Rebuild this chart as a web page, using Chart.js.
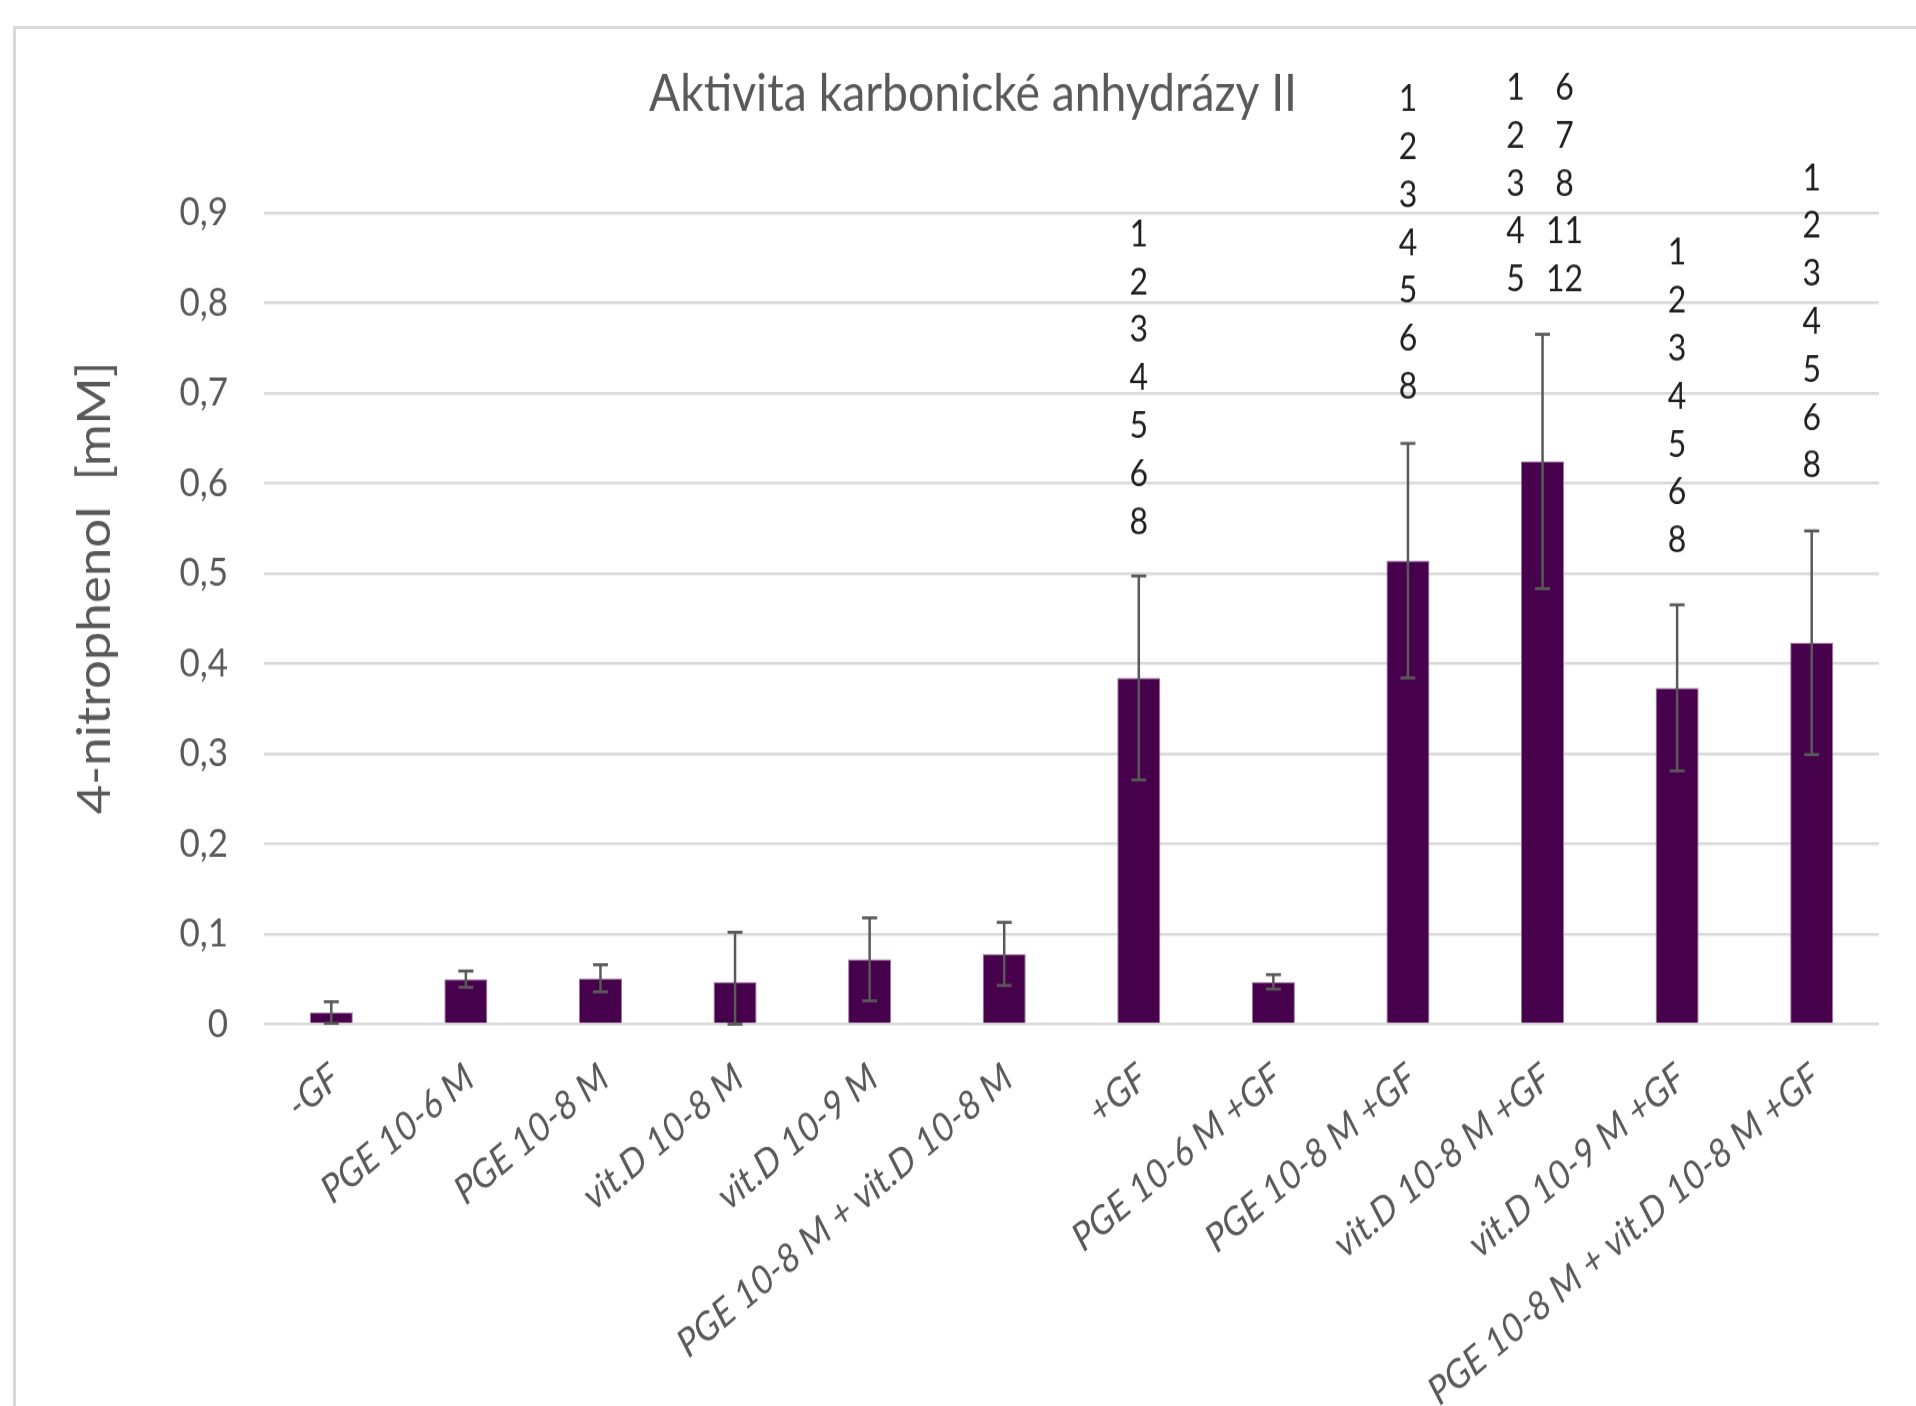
<!DOCTYPE html>
<html>
<head>
<meta charset="utf-8">
<title>Aktivita karbonické anhydrázy II</title>
<script src="https://cdn.jsdelivr.net/npm/chart.js@4.4.1/dist/chart.umd.min.js"></script>
<style>
  html, body { margin: 0; padding: 0; background: #ffffff; width: 1916px; height: 1406px; overflow: hidden; }
  #frame { position: absolute; left: 13px; top: 26px; width: 2000px; height: 2000px; border: 3px solid #d9d9d9; box-sizing: border-box; }
  /* the chart is drawn slightly condensed and stretched vertically */
  #chart { position: absolute; left: 0; top: 0; transform: scaleY(1.12); transform-origin: 0 0; }
</style>
</head>
<body>
<div id="frame"></div>
<canvas id="chart" width="1916" height="1256"></canvas>
<script>
// Treatment groups (x axis)
const categories = [
  '-GF',
  'PGE 10-6 M',
  'PGE 10-8 M',
  'vit.D 10-8 M',
  'vit.D 10-9 M',
  'PGE 10-8 M + vit.D 10-8 M',
  '+GF',
  'PGE 10-6 M +GF',
  'PGE 10-8 M +GF',
  'vit.D 10-8 M +GF',
  'vit.D 10-9 M +GF',
  'PGE 10-8 M + vit.D 10-8 M +GF'
];

// Mean 4-nitrophenol concentration [mM]
const means = [0.013, 0.050, 0.051, 0.047, 0.072, 0.078, 0.384, 0.047, 0.514, 0.624, 0.373, 0.423];

// Standard deviation of each group [mM]
const errors = [0.012, 0.009, 0.015, 0.055, 0.046, 0.035, 0.113, 0.008, 0.130, 0.141, 0.092, 0.124];

// Y axis tick labels (decimal comma)
const yTickLabels = ['0', '0,1', '0,2', '0,3', '0,4', '0,5', '0,6', '0,7', '0,8', '0,9'];

// Groups from which each bar differs significantly (one or two columns per bar)
const significance = [
  null, null, null, null, null, null,
  [['1', '2', '3', '4', '5', '6', '8']],
  null,
  [['1', '2', '3', '4', '5', '6', '8']],
  [['1', '2', '3', '4', '5'], ['6', '7', '8', '11', '12']],
  [['1', '2', '3', '4', '5', '6', '8']],
  [['1', '2', '3', '4', '5', '6', '8']]
];

const chartTitle = 'Aktivita karbonické anhydrázy II';
const yAxisTitle = '4-nitrophenol  [mM]';

const FONT = 'Lato';
const GREY = '#595959';

// Error bars: mean ± SD, clipped at zero
const errorBarPlugin = {
  id: 'errorBars',
  afterDatasetsDraw(chart, args, opts) {
    const { ctx, scales: { y } } = chart;
    const meta = chart.getDatasetMeta(0);
    ctx.save();
    ctx.strokeStyle = opts.color;
    ctx.lineCap = 'butt';
    means.forEach((m, i) => {
      const cx = meta.data[i].x;
      const hi = y.getPixelForValue(m + errors[i]);
      const lo = y.getPixelForValue(Math.max(0, m - errors[i]));
      ctx.lineWidth = opts.stemWidth;
      ctx.beginPath();
      ctx.moveTo(cx, lo);
      ctx.lineTo(cx, hi);
      ctx.stroke();
      ctx.lineWidth = opts.capThickness;
      [hi, lo].forEach(py => {
        ctx.beginPath();
        ctx.moveTo(cx - opts.capHalf, py);
        ctx.lineTo(cx + opts.capHalf, py);
        ctx.stroke();
      });
    });
    ctx.restore();
  }
};

// Stacked significance marks above the error bars
const significancePlugin = {
  id: 'significanceMarks',
  afterDraw(chart, args, opts) {
    const { ctx, scales: { y } } = chart;
    const meta = chart.getDatasetMeta(0);
    ctx.save();
    ctx.font = `${opts.size}px ${FONT}`;
    ctx.fillStyle = opts.color;
    ctx.textAlign = 'center';
    ctx.textBaseline = 'middle';
    significance.forEach((cols, i) => {
      if (!cols) return;
      const cx = meta.data[i].x;
      const lastY = y.getPixelForValue(means[i] + errors[i]) - opts.gaps[i];
      const offsets = cols.length === 1 ? [0] : opts.columnOffsets;
      cols.forEach((col, c) => {
        col.forEach((txt, k) => {
          ctx.fillText(txt, cx + offsets[c], lastY - (col.length - 1 - k) * opts.lineStep);
        });
      });
    });
    ctx.restore();
  }
};

// Vertical axis title
const yTitlePlugin = {
  id: 'yAxisTitle',
  afterDraw(chart, args, opts) {
    const { ctx } = chart;
    ctx.save();
    ctx.translate(opts.x, opts.y);
    ctx.rotate(-Math.PI / 2);
    ctx.font = `${opts.size}px ${FONT}`;
    ctx.fillStyle = GREY;
    ctx.textAlign = 'center';
    ctx.textBaseline = 'middle';
    ctx.fillText(yAxisTitle, 0, 0);
    ctx.restore();
  }
};

function build() {
  new Chart(document.getElementById('chart'), {
    type: 'bar',
    data: {
      labels: categories,
      datasets: [{
        data: means,
        backgroundColor: '#47004b',
        borderColor: '#9c78a0',
        borderWidth: 1,
        categoryPercentage: 1,
        barPercentage: 0.32
      }]
    },
    options: {
      responsive: false,
      animation: false,
      devicePixelRatio: 1,
      layout: { padding: { left: 67, right: 37, top: 0, bottom: 0 } },
      plugins: {
        legend: { display: false },
        tooltip: { enabled: false },
        title: {
          display: true,
          text: chartTitle,
          color: GREY,
          font: { family: FONT, size: 46.3, weight: 'normal', lineHeight: 1.2 },
          padding: { top: 56.3, bottom: 77.9 }
        },
        errorBars: { color: '#595959', stemWidth: 2.5, capThickness: 2.7, capHalf: 7.5 },
        significanceMarks: {
          size: 32,
          color: '#1f1f1f',
          lineStep: 42.8,
          columnOffsets: [-27, 22],
          gaps: [0, 0, 0, 0, 0, 0, 48, 0, 50.3, 48.5, 57.1, 58]
        },
        yAxisTitle: { x: 95, y: 525, size: 45.6 }
      },
      scales: {
        x: {
          grid: { display: false },
          border: { display: false },
          ticks: {
            autoSkip: false,
            minRotation: 37,
            maxRotation: 37,
            padding: 19,
            labelOffset: 4,
            color: GREY,
            font: { family: FONT, size: 35, style: 'italic' }
          },
          afterFit(scale) { scale.height = 341.5; }
        },
        y: {
          min: 0,
          max: 0.9,
          grid: { color: '#d9d9d9', lineWidth: 2.4, drawTicks: false },
          border: { display: false },
          ticks: {
            stepSize: 0.1,
            padding: 36,
            color: GREY,
            font: { family: FONT, size: 35 },
            callback: (value, index) => yTickLabels[index]
          },
          afterFit(scale) { scale.width = 197; }
        }
      }
    },
    plugins: [errorBarPlugin, significancePlugin, yTitlePlugin]
  });
}

Promise.all([
  document.fonts.load(`35px ${FONT}`),
  document.fonts.load(`italic 35px ${FONT}`)
]).then(build, build);
</script>
</body>
</html>
